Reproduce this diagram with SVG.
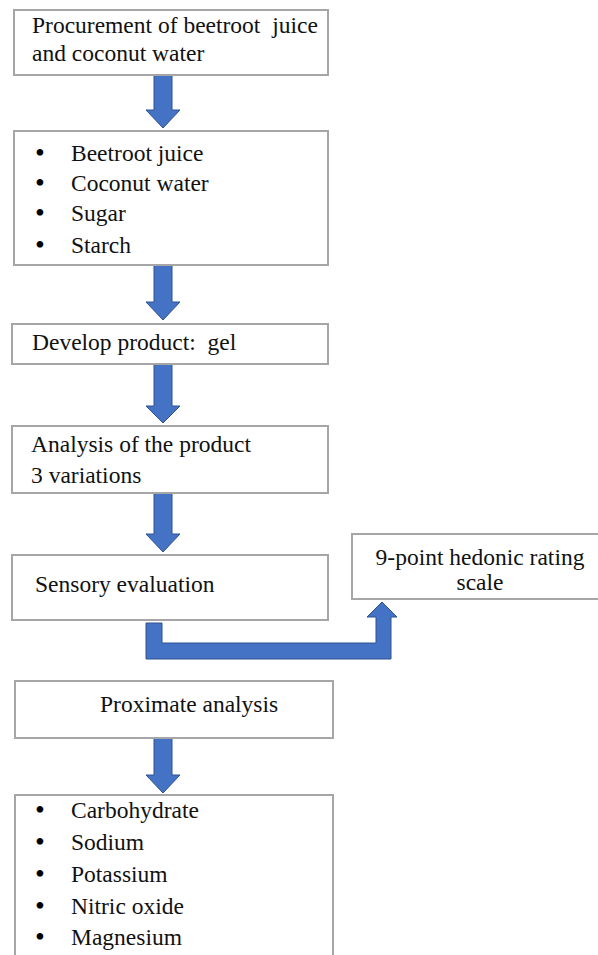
<svg xmlns="http://www.w3.org/2000/svg" width="598" height="955" viewBox="0 0 598 955">
<style>
.box{fill:#fff;stroke:#a6a6a6;stroke-width:2}
.arr{fill:#4472c4;stroke:#2f528f;stroke-width:1}
.t{font-family:'Liberation Serif',serif;font-size:23.5px;fill:#111}
.b{font-family:'Liberation Serif',serif;font-size:28px;fill:#000}
.c{text-anchor:middle}
</style>
<rect width="598" height="955" fill="#fff"/>
<g id="connectors">
<path class="arr" d="M154,75 H172 V110 H180 L163,128 L146,110 H154 Z"/>
<path class="arr" d="M154,265 H172 V302 H180 L163,320 L146,302 H154 Z"/>
<path class="arr" d="M154,364 H172 V406 H180 L163,423 L146,406 H154 Z"/>
<path class="arr" d="M154,493 H172 V534 H180 L163,552 L146,534 H154 Z"/>
<path class="arr" d="M146,623 H162 V643 H376 V617 H367 L382,602 L397,617 H391 V659 H146 Z"/>
<path class="arr" d="M154,738 H172 V775 H180 L163,793 L146,775 H154 Z"/>
</g>
<g id="n1">
<rect class="box" x="14" y="10" width="314" height="65"/>
<text class="t" x="32" y="33" xml:space="preserve">Procurement of beetroot  juice</text>
<text class="t" x="32" y="61">and coconut water</text>
</g>
<g id="n2">
<rect class="box" x="14" y="131" width="314" height="134"/>
<text class="b" x="35" y="162">•</text><text class="t" x="71" y="161">Beetroot juice</text>
<text class="b" x="35" y="192">•</text><text class="t" x="71" y="191">Coconut water</text>
<text class="b" x="35" y="222">•</text><text class="t" x="71" y="221">Sugar</text>
<text class="b" x="35" y="254">•</text><text class="t" x="71" y="253">Starch</text>
</g>
<g id="n3">
<rect class="box" x="12" y="324" width="316" height="40"/>
<text class="t" x="32" y="350" xml:space="preserve">Develop product:  gel</text>
</g>
<g id="n4">
<rect class="box" x="12" y="426" width="316" height="67"/>
<text class="t" x="31" y="452">Analysis of the product</text>
<text class="t" x="31" y="483">3 variations</text>
</g>
<g id="n5">
<rect class="box" x="12" y="555" width="316" height="65"/>
<text class="t" x="35" y="592">Sensory evaluation</text>
</g>
<g id="n6">
<rect class="box" x="352" y="534" width="250" height="65"/>
<text class="t c" x="480" y="565">9-point hedonic rating</text>
<text class="t c" x="480" y="590">scale</text>
</g>
<g id="n7">
<rect class="box" x="15" y="681" width="318" height="57"/>
<text class="t" x="100" y="712">Proximate analysis</text>
</g>
<g id="n8">
<rect class="box" x="15" y="795" width="318" height="170"/>
<text class="b" x="35" y="819">•</text><text class="t" x="71" y="818">Carbohydrate</text>
<text class="b" x="35" y="851">•</text><text class="t" x="71" y="850">Sodium</text>
<text class="b" x="35" y="883">•</text><text class="t" x="71" y="882">Potassium</text>
<text class="b" x="35" y="915">•</text><text class="t" x="71" y="914">Nitric oxide</text>
<text class="b" x="35" y="946">•</text><text class="t" x="71" y="945">Magnesium</text>
</g>
</svg>
